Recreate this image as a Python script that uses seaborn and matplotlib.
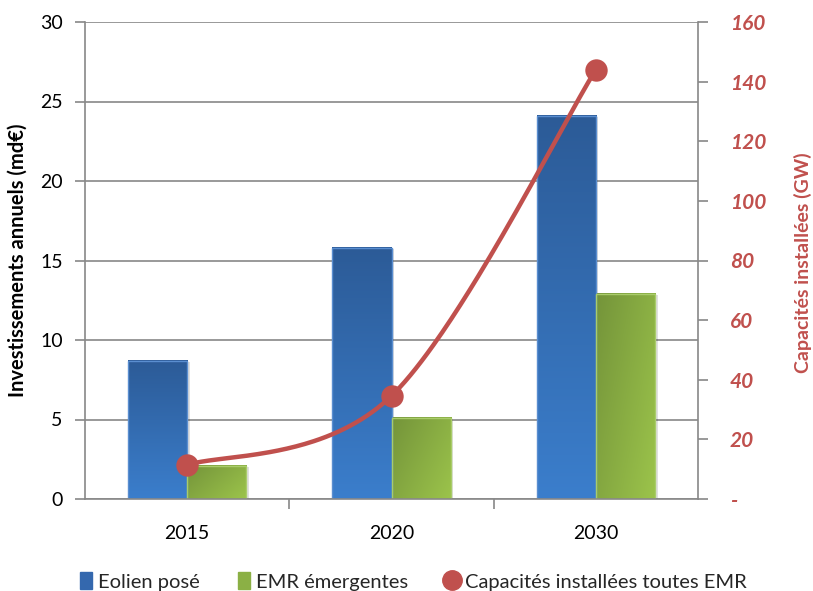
import numpy as np
import pandas as pd
import matplotlib
matplotlib.use("Agg")
import matplotlib.pyplot as plt
from matplotlib.patches import Patch
from matplotlib.lines import Line2D
from matplotlib.colors import LinearSegmentedColormap
import seaborn as sns

# ---- data ----
years = ["2015", "2020", "2030"]
eolien_pose = [8.7, 15.8, 24.1]          # md€
emr_emergentes = [2.1, 5.1, 12.9]        # md€
capacites_gw = [11.4, 34.6, 144.0]       # GW
series_names = ["Eolien posé", "EMR émergentes"]
line_name = "Capacités installées toutes EMR"
left_ticks = [0, 5, 10, 15, 20, 25, 30]
right_ticks = [0, 20, 40, 60, 80, 100, 120, 140, 160]

sns.set_style("white")
plt.rcParams["font.family"] = ["Lato", "DejaVu Sans"]

BLUE = "#3A70BA"
GREEN = "#8BB045"
RED = "#C0504D"
GRID = "#888888"

df = pd.DataFrame({
    "year": years * 2,
    "series": [series_names[0]] * 3 + [series_names[1]] * 3,
    "value": eolien_pose + emr_emergentes,
})

fig = plt.figure(figsize=(8.13, 5.91), dpi=100)
ax = fig.add_axes([85 / 813, 1 - 499 / 591, (698 - 85) / 813, (499 - 22) / 591])

sns.barplot(data=df, x="year", y="value", hue="series", order=years,
            hue_order=series_names, palette=[BLUE, GREEN], width=0.58,
            legend=False, ax=ax, errorbar=None)

# gradient fills for the bars
blue_cmap = LinearSegmentedColormap.from_list("b", ["#3B7ECC", "#2C5B97"])
green_cmap = LinearSegmentedColormap.from_list("g", ["#74943A", "#9CC44B"])
vgrad = np.linspace(0, 1, 256).reshape(-1, 1)
gx, gy = np.meshgrid(np.linspace(0, 1, 64), np.linspace(0, 1, 256))
dgrad = gx * 0.6 + (1 - gy) * 0.4     # dark top-left, light bottom-right
for cont, cmap, grad, edge in [(ax.containers[0], blue_cmap, vgrad, "#5A8ED0"),
                               (ax.containers[1], green_cmap, dgrad, "#A9CC6A")]:
    for bar in cont:
        x0, y0, w, h = bar.get_x(), bar.get_y(), bar.get_width(), bar.get_height()
        # soft shadow
        ax.add_patch(plt.Rectangle((x0 + 0.012, y0), w, h - 0.08, facecolor="black",
                                   alpha=0.12, edgecolor="none", zorder=1.5))
        ax.imshow(grad, cmap=cmap, extent=[x0, x0 + w, y0, y0 + h], aspect="auto",
                  origin="lower", zorder=2, interpolation="bilinear")
        bar.set_facecolor("none")
        bar.set_edgecolor(edge)
        bar.set_linewidth(1.0)
        bar.set_zorder(2.1)

ax.set_xlim(-0.5, 2.5)
ax.set_ylim(0, 30)
ax.set_yticks(left_ticks)
ax.set_axisbelow(True)
ax.yaxis.grid(True, color=GRID, linewidth=1.2)
ax.set_xlabel("")
ax.set_ylabel("Investissements annuels (md€)", fontsize=14.5, fontweight="bold",
              color="black", labelpad=9)
ax.tick_params(axis="y", labelsize=14, colors="black", length=7, width=1.2,
               color=GRID, direction="out", left=True, pad=9)
ax.tick_params(axis="x", labelsize=14, colors="black", length=0, pad=19)
ax.set_xticks([0.5, 1.5], minor=True)
ax.tick_params(axis="x", which="minor", length=7, width=1.2, color=GRID,
               direction="out", bottom=True)
for s in ["top", "right"]:
    ax.spines[s].set_visible(False)
for s in ["left", "bottom"]:
    ax.spines[s].set_color(GRID)
    ax.spines[s].set_linewidth(1.2)

# secondary axis: installed capacity
ax2 = ax.twinx()
ax2.set_ylim(0, 160)
ax2.set_yticks(right_ticks)
ax2.set_yticklabels(["-" if t == 0 else str(t) for t in right_ticks],
                    fontweight="bold", fontstyle="italic", color=RED, fontsize=15)
ax2.tick_params(axis="y", length=7, width=1.2, color=GRID, direction="out", pad=16)
for s in ["top", "left", "bottom"]:
    ax2.spines[s].set_visible(False)
ax2.spines["right"].set_color(GRID)
ax2.spines["right"].set_linewidth(1.2)
ax2.grid(False)
fig.text(803 / 813, 1 - 263 / 591, "Capacités installées (GW)", rotation=90,
         ha="center", va="center", fontsize=14, fontweight="bold", color=RED)

# smoothed line through the capacity points (Catmull-Rom / Bezier)
xs = np.arange(len(years), dtype=float)
ys = np.array(capacites_gw)
P = np.column_stack([xs, ys])
curve = []
for i in range(len(P) - 1):
    p0 = P[max(i - 1, 0)]
    p1, p2 = P[i], P[i + 1]
    p3 = P[min(i + 2, len(P) - 1)]
    c1 = p1 + (p2 - p0) / 6
    c2 = p2 - (p3 - p1) / 6
    t = np.linspace(0, 1, 80)[:, None]
    seg = ((1 - t) ** 3) * p1 + 3 * ((1 - t) ** 2) * t * c1 + 3 * (1 - t) * t ** 2 * c2 + t ** 3 * p2
    curve.append(seg)
curve = np.vstack(curve)
ax2.plot(curve[:, 0], curve[:, 1], color=RED, linewidth=3.2, solid_capstyle="round", zorder=3)
sns.scatterplot(x=xs, y=ys, ax=ax2, color=RED, s=260, edgecolor=RED, linewidth=0,
                zorder=4, legend=False)
ax2.set_xlim(-0.5, 2.5)

handles = [
    Patch(facecolor="#3468AE", edgecolor="#3468AE", label=series_names[0]),
    Patch(facecolor=GREEN, edgecolor=GREEN, label=series_names[1]),
    Line2D([], [], marker="o", linestyle="none", markersize=14, color=RED,
           label=line_name),
]
fig.legend(handles=handles, loc="lower center", bbox_to_anchor=(0.508, -0.03),
           ncol=3, frameon=False, fontsize=14.5, handlelength=0.6, handleheight=0.9,
           handletextpad=0.3, columnspacing=1.9)

fig.savefig("out.png", dpi=100)
